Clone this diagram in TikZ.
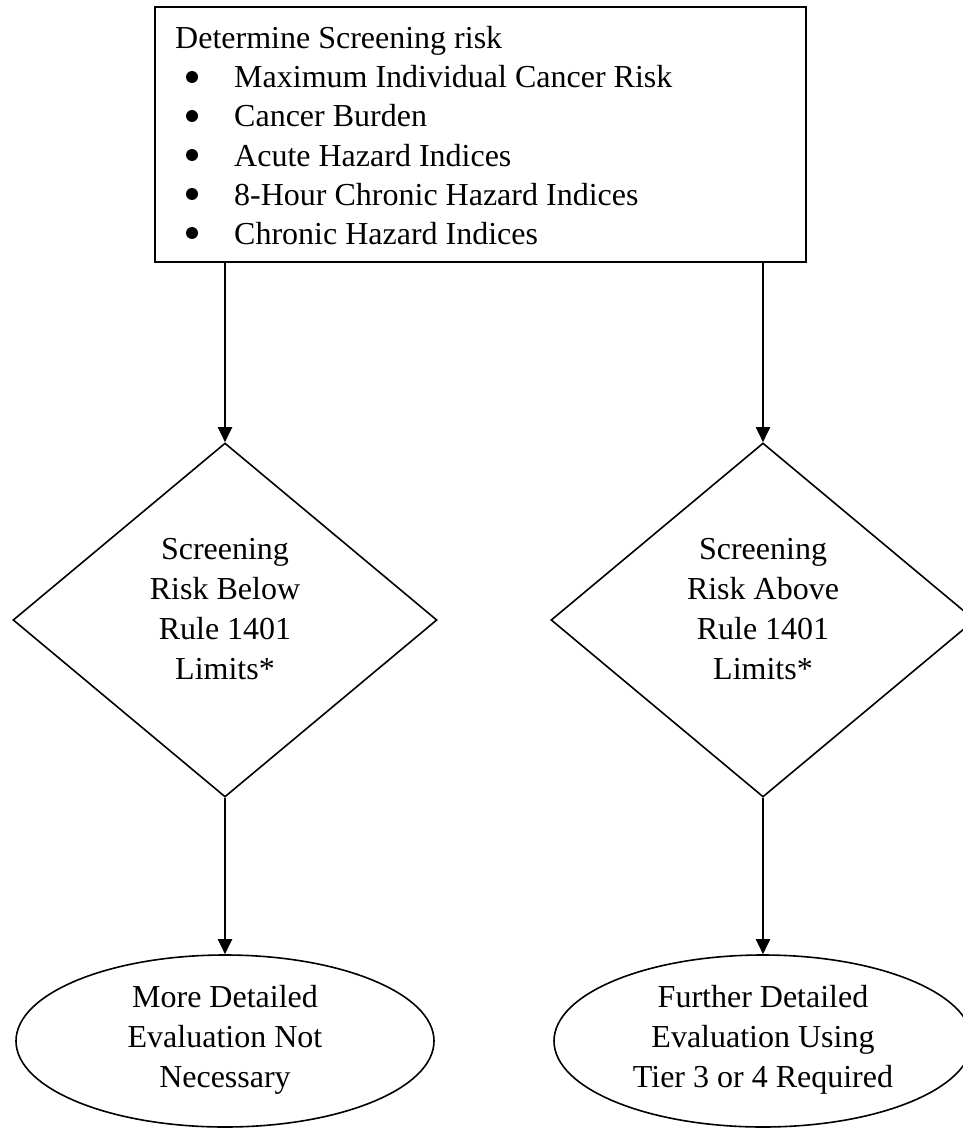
\documentclass[tikz,border=0pt]{standalone}
\usepackage{fontspec}
\setmainfont{Liberation Serif}
\usetikzlibrary{shapes.geometric,arrows.meta}
\begin{document}
\begin{tikzpicture}[x=1pt,y=-1pt,
  every node/.style={font=\fontsize{32}{39}\selectfont},
  boxnode/.style={draw,line width=2pt,rectangle,minimum width=651pt,minimum height=255pt,inner sep=0pt},
  txt/.style={inner sep=0pt,anchor=base west},
  bul/.style={circle,fill,inner sep=0pt,minimum size=12pt},
  dia/.style={draw,line width=1.6pt,diamond,minimum width=424pt,minimum height=354pt,inner sep=0pt},
  ell/.style={draw,line width=1.6pt,ellipse,minimum width=418pt,minimum height=172pt,inner sep=0pt},
  ctext/.style={align=center,inner sep=0pt,font=\fontsize{32}{40}\selectfont},
  conn/.style={line width=2pt,-{Triangle[length=15pt,width=14pt]}}]
\useasboundingbox (0,0) rectangle (962,1129);
\node[boxnode] (box) at (480.5,134.5) {};
\node[txt] (t0) at (175,49) {Determine Screening risk};
\node[bul] (b1) at (192,77) {};
\node[txt] (t1) at (234,88) {Maximum Individual Cancer Risk};
\node[bul] (b2) at (192,116) {};
\node[txt] (t2) at (234,127) {Cancer Burden};
\node[bul] (b3) at (192,155) {};
\node[txt] (t3) at (234,166) {Acute Hazard Indices};
\node[bul] (b4) at (192,194) {};
\node[txt] (t4) at (234,205) {8-Hour Chronic Hazard Indices};
\node[bul] (b5) at (192,233) {};
\node[txt] (t5) at (234,244) {Chronic Hazard Indices};

\node[dia] (d1) at (225,620) {};
\node[ctext] (d1t) at (225,609) {Screening\\Risk Below\\Rule 1401\\Limits*};
\node[dia] (d2) at (763,620) {};
\node[ctext] (d2t) at (763,609) {Screening\\Risk Above\\Rule 1401\\Limits*};

\node[ell] (e1) at (225,1041) {};
\node[ctext] (e1t) at (225,1040) {More Detailed\\Evaluation Not\\Necessary};
\node[ell] (e2) at (763,1041) {};
\node[ctext] (e2t) at (763,1040) {Further Detailed\\Evaluation Using\\Tier 3 or 4 Required};

\draw[conn] (box.south -| d1.north) -- (d1.north);
\draw[conn] (box.south -| d2.north) -- (d2.north);
\draw[conn] (d1.south) -- (e1.north);
\draw[conn] (d2.south) -- (e2.north);
\end{tikzpicture}
\end{document}
